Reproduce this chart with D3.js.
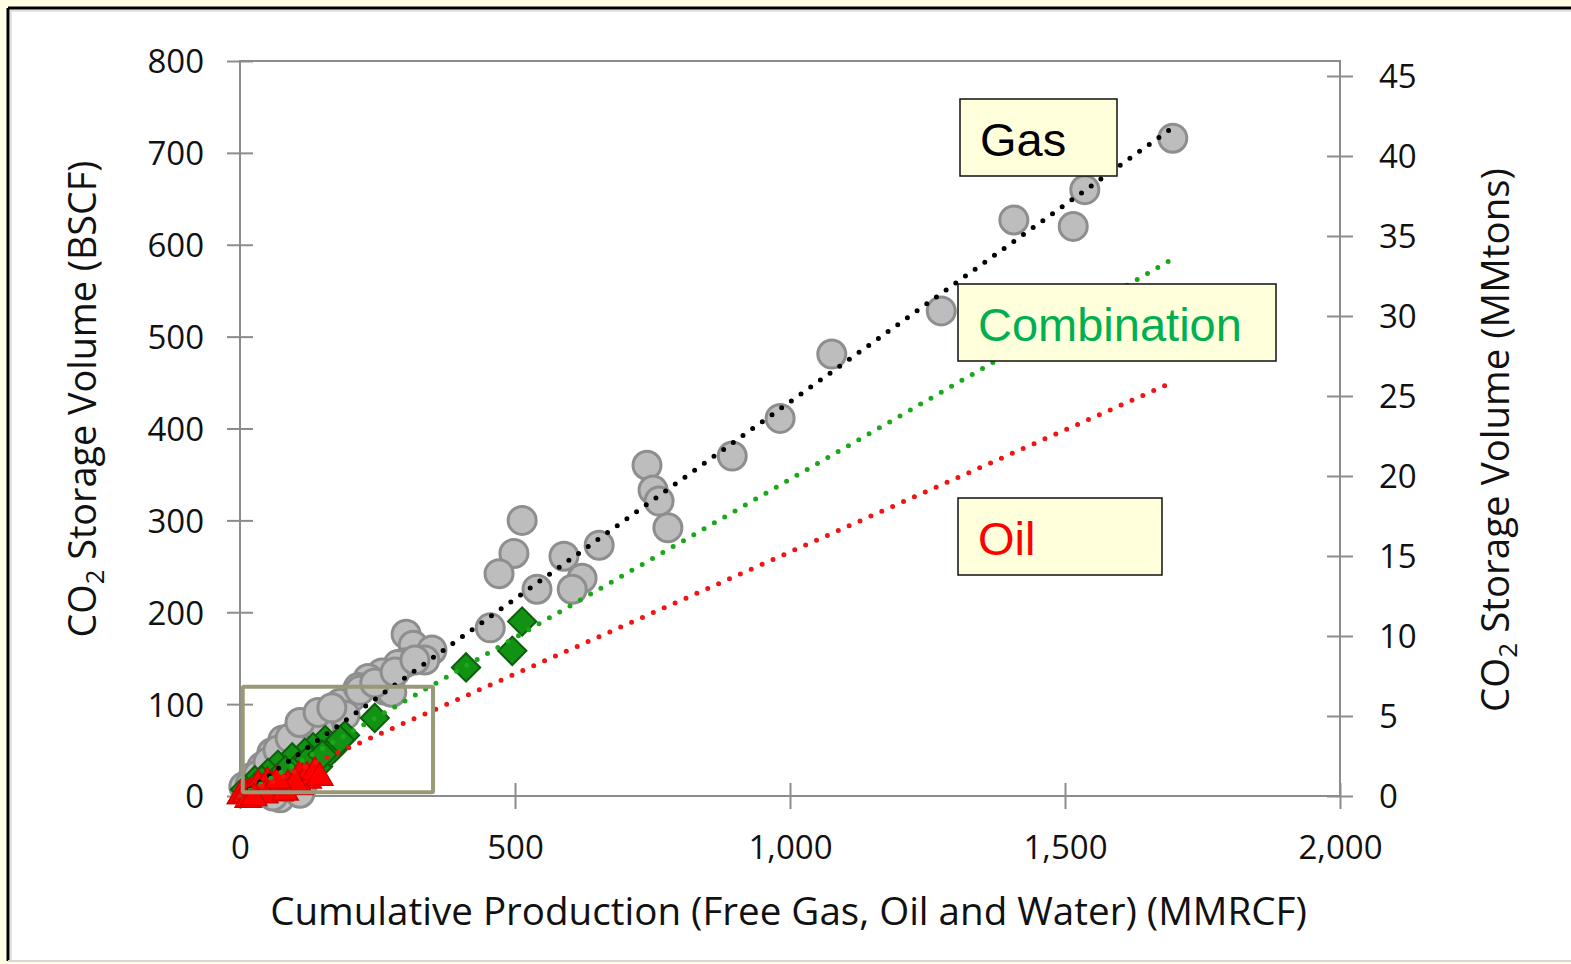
<!DOCTYPE html>
<html>
<head>
<meta charset="utf-8">
<script src="https://cdn.jsdelivr.net/npm/d3@7"></script>
<style>
  html, body { margin: 0; padding: 0; background: #fffde3; }
  svg { display: block; }
  text { font-family: "Open Sans", "DejaVu Sans", sans-serif; }
</style>
</head>
<body>
<svg id="chart" width="1571" height="964"></svg>
<script>
// ---------------- data ----------------
const gasX = [1696,1536,1407,1515,1275,1076,982,895,740,751,762,778,513,498,471,540,589,622,604,653,455,302,315,349,336,300,287,258,233,204,182,155,131,113,78,58,40,24,7,109,73,113,91,145,191,264,215,276,
              18,33,51,69,91,109,142,167,218,245,282,318,73,109,60];
const gasY = [716,660,627,620,528,481,411,370,360,333,321,292,300,264,242,225,261,237,225,273,183,176,164,159,148,145,143,134,128,108,101,86,79,72,61,47,32,21,10,4,1,11,56,72,88,115,118,113,
              12,23,37,50,63,80,91,96,115,123,135,148,-2,3,0];

const comboX = [513,495,411,245,173,155,133,118,142,95,69,51,27,9,191,109,82,164,182,40,125,150];
const comboY = [190,158,140,85,53,61,53,47,32,42,34,25,17,7,66,34,28,48,61,17,40,45];

const oilX = [2,18,33,58,87,109,124,1,40,73,109,122,10,50,65,45,82,100,136,145,69,15,25];
const oilY = [0,3,12,10,12,23,17,0,7,3,10,21,2,15,6,1,4,14,26,20,17,-4,-2];

// linear trend lines through origin: [slope, xEnd]
const trendNames  = ["Gas", "Combination", "Oil"];
const trendSlopes = [0.429, 0.3447, 0.2656];
const trendEnds   = [1692, 1705, 1693];

const xTicks      = [0, 500, 1000, 1500, 2000];
const yLeftTicks  = [0, 100, 200, 300, 400, 500, 600, 700, 800];
const yRightTicks = [0, 5, 10, 15, 20, 25, 30, 35, 40, 45];

const zoomBoxX = [5, 351];
const zoomBoxY = [4, 119];

// ---------------- layout ----------------
const svg = d3.select("#chart");
const W = 1571, H = 964;
const L = 240, R = 1340, T = 61, B = 796;

// frame
svg.append("rect").attr("x", 0).attr("y", 0).attr("width", W).attr("height", H).attr("fill", "#fffde3");
svg.append("rect").attr("x", 9).attr("y", 9).attr("width", W).attr("height", 951).attr("fill", "#ffffff");
svg.append("line").attr("x1", 8).attr("x2", W).attr("y1", 8).attr("y2", 8).attr("stroke", "#000").attr("stroke-width", 3);
svg.append("line").attr("x1", 8).attr("x2", 8).attr("y1", 8).attr("y2", 961).attr("stroke", "#000").attr("stroke-width", 3);
svg.append("line").attr("x1", 8).attr("x2", W).attr("y1", 961).attr("y2", 961).attr("stroke", "#d8d8d8").attr("stroke-width", 2);
svg.append("line").attr("x1", 10).attr("x2", W).attr("y1", 11).attr("y2", 11).attr("stroke", "#e2e2e2").attr("stroke-width", 2);
svg.append("line").attr("x1", 11).attr("x2", 11).attr("y1", 10).attr("y2", 960).attr("stroke", "#e2e2e2").attr("stroke-width", 2);

const x = d3.scaleLinear().domain([0, 2000]).range([L, R]);
const y = d3.scaleLinear().domain([0, 800]).range([B, T]);
const y2 = d3.scaleLinear().domain([0, (B - T) / 16]).range([B, T]);

const axisColor = "#8c8c8c";
const tickFont = 33;

// plot border
svg.append("rect").attr("x", L).attr("y", T).attr("width", R - L).attr("height", B - T)
  .attr("fill", "none").attr("stroke", axisColor).attr("stroke-width", 2);

function styleAxis(g) {
  g.select(".domain").remove();
  g.selectAll(".tick line").attr("stroke", axisColor).attr("stroke-width", 2);
  g.selectAll(".tick text").attr("fill", "#111").attr("font-size", tickFont)
    .style("font-family", "'Open Sans', sans-serif");
}

// bottom axis (cross ticks)
const gx = svg.append("g").attr("transform", `translate(0,${B})`)
  .call(d3.axisBottom(x).tickValues(xTicks).tickFormat(d3.format(",")).tickSizeInner(13).tickSizeOuter(0).tickPadding(0));
styleAxis(gx);
gx.selectAll(".tick line").attr("y1", -13).attr("y2", 13);
gx.selectAll(".tick text").attr("y", 63).attr("dy", 0);

// left axis
const gy = svg.append("g").attr("transform", `translate(${L},0)`)
  .call(d3.axisLeft(y).tickValues(yLeftTicks).tickSizeInner(13).tickSizeOuter(0).tickPadding(0));
styleAxis(gy);
gy.selectAll(".tick line").attr("x1", 13).attr("x2", -13);
gy.selectAll(".tick text").attr("x", -36).attr("dy", "0.36em");

// right axis
const gy2 = svg.append("g").attr("transform", `translate(${R},0)`)
  .call(d3.axisRight(y2).tickValues(yRightTicks).tickSizeInner(13).tickSizeOuter(0).tickPadding(0));
styleAxis(gy2);
gy2.selectAll(".tick line").attr("x1", -13).attr("x2", 13);
gy2.selectAll(".tick text").attr("x", 39).attr("dy", "0.36em");

// axis titles
function fitTitle(sel, target) {
  const len = sel.node().getComputedTextLength();
  const fs = parseFloat(sel.attr("font-size"));
  sel.attr("font-size", fs * target / len);
}
const xt = svg.append("text").attr("x", (270 + 1307) / 2).attr("y", 925)
  .attr("text-anchor", "middle").attr("font-size", 34).attr("fill", "#111")
  .text("Cumulative Production (Free Gas, Oil and Water) (MMRCF)");
fitTitle(xt, 1037);

function co2Title(cx, cy, rest, target) {
  const t = svg.append("text").attr("transform", `translate(${cx},${cy}) rotate(-90)`)
    .attr("text-anchor", "middle").attr("font-size", 34).attr("fill", "#111");
  t.append("tspan").text("CO");
  t.append("tspan").attr("font-size", "0.68em").attr("dy", "0.32em").text("2");
  t.append("tspan").attr("dy", "-0.22em").text(" Storage Volume (" + rest + ")");
  fitTitle(t, target);
  return t;
}
co2Title(96, 399, "BSCF", 477);
co2Title(1509, 440, "MMtons", 544);

// ---------------- marks ----------------
const plot = svg.append("g");

plot.selectAll("circle.gas").data(gasX.map((d, i) => [d, gasY[i]])).join("circle")
  .attr("class", "gas")
  .attr("cx", d => x(d[0])).attr("cy", d => y(d[1])).attr("r", 14)
  .attr("fill", "#bdbdbd").attr("stroke", "#8e8e8e").attr("stroke-width", 3);

const diamond = d3.symbol().type(d3.symbolSquare).size(400)();
plot.selectAll("path.combo").data(comboX.map((d, i) => [d, comboY[i]])).join("path")
  .attr("class", "combo").attr("d", diamond)
  .attr("transform", d => `translate(${x(d[0])},${y(d[1])}) rotate(45)`)
  .attr("fill", "#129212").attr("stroke", "#0d5e0d").attr("stroke-width", 2);

const tri = d3.symbol().type(d3.symbolTriangle).size(300)();
plot.selectAll("path.oil").data(oilX.map((d, i) => [d, oilY[i]])).join("path")
  .attr("class", "oil").attr("d", tri)
  .attr("transform", d => `translate(${x(d[0])},${y(d[1])})`)
  .attr("fill", "#ff0000").attr("stroke", "#d40000").attr("stroke-width", 1.5);

// trend lines (dotted)
const trendColors = ["#000000", "#1aa81a", "#f01414"];
trendNames.forEach((n, i) => {
  svg.append("line")
    .attr("x1", x(0)).attr("y1", y(0))
    .attr("x2", x(trendEnds[i])).attr("y2", y(trendSlopes[i] * trendEnds[i]))
    .attr("stroke", trendColors[i]).attr("stroke-width", 5)
    .attr("stroke-linecap", "round").attr("stroke-dasharray", "0 11.9");
});

// zoom rectangle annotation
svg.append("rect")
  .attr("x", x(zoomBoxX[0])).attr("y", y(zoomBoxY[1]))
  .attr("width", x(zoomBoxX[1]) - x(zoomBoxX[0])).attr("height", y(zoomBoxY[0]) - y(zoomBoxY[1]))
  .attr("fill", "none").attr("stroke", "#999977").attr("stroke-width", 4).attr("rx", 1.5);

// label boxes
const boxes = [
  { text: "Gas", color: "#000000", x0: 960, y0: 99, x1: 1117, y1: 176 },
  { text: "Combination", color: "#00b050", x0: 958, y0: 284, x1: 1276, y1: 361 },
  { text: "Oil", color: "#ff0000", x0: 958, y0: 498, x1: 1162, y1: 575 }
];
boxes.forEach(b => {
  svg.append("rect").attr("x", b.x0).attr("y", b.y0).attr("width", b.x1 - b.x0).attr("height", b.y1 - b.y0)
    .attr("fill", "#ffffdc").attr("stroke", "#111").attr("stroke-width", 1.5);
  svg.append("text").attr("x", b.x0 + 20).attr("y", b.y0 + 57)
    .style("font-family", "'Liberation Sans', Arial, sans-serif")
    .attr("font-size", 47).attr("fill", b.color).text(b.text);
});
</script>
</body>
</html>
